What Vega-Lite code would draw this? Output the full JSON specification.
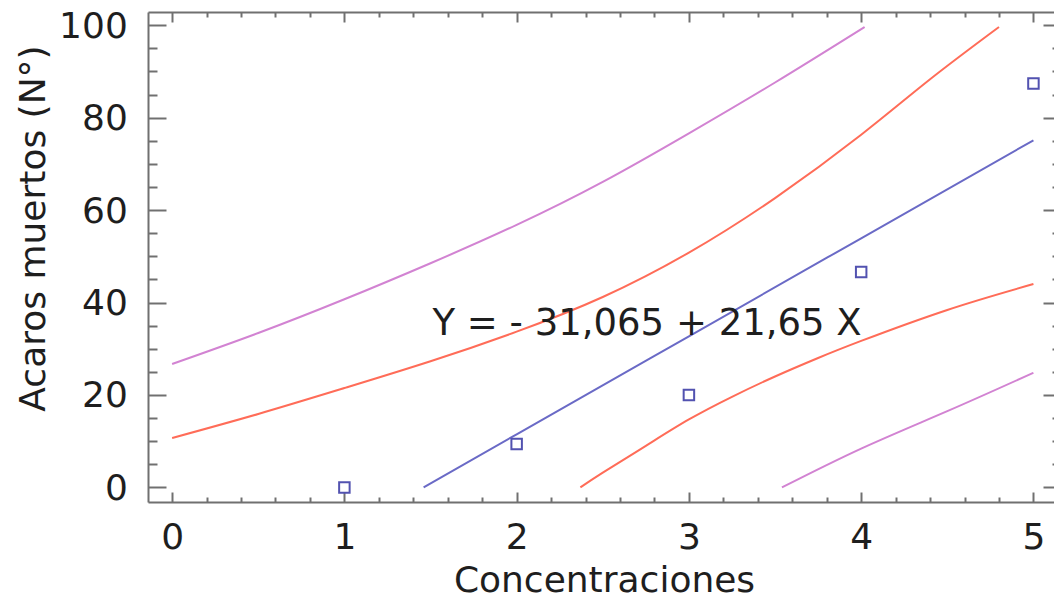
{
  "$schema": "https://vega.github.io/schema/vega-lite/v6.json",
  "width": 913,
  "height": 490,
  "autosize": {"type": "none"},
  "padding": {"left": 148, "top": 12, "right": 0, "bottom": 98},
  "background": "white",
  "config": {
    "view": {"stroke": null},
    "axis": {
      "grid": false,
      "domainColor": "#707070",
      "domainWidth": 2,
      "tickColor": "#707070",
      "tickWidth": 2,
      "labelFont": "DejaVu Sans",
      "labelFontSize": 36,
      "labelColor": "#1e1e1e",
      "labelOverlap": false,
      "labelFlush": false,
      "titleFont": "DejaVu Sans",
      "titleFontWeight": "normal",
      "titleColor": "#1e1e1e"
    }
  },
  "datasets": {
    "points": [
      {"conc": 1, "muertos": 0},
      {"conc": 2, "muertos": 9.4},
      {"conc": 3, "muertos": 20.0},
      {"conc": 4, "muertos": 46.6},
      {"conc": 5, "muertos": 87.4}
    ],
    "curves": [
      {"serie": "pred_upper", "conc": 0, "muertos": 26.7},
      {"serie": "pred_upper", "conc": 0.5, "muertos": 33.4},
      {"serie": "pred_upper", "conc": 1, "muertos": 40.7},
      {"serie": "pred_upper", "conc": 1.5, "muertos": 48.5},
      {"serie": "pred_upper", "conc": 2, "muertos": 56.8},
      {"serie": "pred_upper", "conc": 2.5, "muertos": 66.1},
      {"serie": "pred_upper", "conc": 3, "muertos": 76.6},
      {"serie": "pred_upper", "conc": 3.5, "muertos": 87.6},
      {"serie": "pred_upper", "conc": 4.02, "muertos": 99.6},
      {"serie": "conf_upper", "conc": 0, "muertos": 10.7},
      {"serie": "conf_upper", "conc": 0.5, "muertos": 15.9},
      {"serie": "conf_upper", "conc": 1, "muertos": 21.5},
      {"serie": "conf_upper", "conc": 1.5, "muertos": 27.3},
      {"serie": "conf_upper", "conc": 2, "muertos": 33.7},
      {"serie": "conf_upper", "conc": 2.5, "muertos": 41.2},
      {"serie": "conf_upper", "conc": 3, "muertos": 50.8},
      {"serie": "conf_upper", "conc": 3.5, "muertos": 62.6},
      {"serie": "conf_upper", "conc": 4, "muertos": 76.3},
      {"serie": "conf_upper", "conc": 4.4, "muertos": 88.3},
      {"serie": "conf_upper", "conc": 4.8, "muertos": 99.6},
      {"serie": "fit", "conc": 1.46, "muertos": 0},
      {"serie": "fit", "conc": 2, "muertos": 11.5},
      {"serie": "fit", "conc": 3, "muertos": 32.7},
      {"serie": "fit", "conc": 4, "muertos": 53.9},
      {"serie": "fit", "conc": 5, "muertos": 75.1},
      {"serie": "conf_lower", "conc": 2.37, "muertos": 0},
      {"serie": "conf_lower", "conc": 2.5, "muertos": 3.2},
      {"serie": "conf_lower", "conc": 2.75, "muertos": 9.0},
      {"serie": "conf_lower", "conc": 3, "muertos": 14.7},
      {"serie": "conf_lower", "conc": 3.25, "muertos": 19.6},
      {"serie": "conf_lower", "conc": 3.5, "muertos": 24.0},
      {"serie": "conf_lower", "conc": 3.75, "muertos": 28.0},
      {"serie": "conf_lower", "conc": 4, "muertos": 31.7},
      {"serie": "conf_lower", "conc": 4.5, "muertos": 38.4},
      {"serie": "conf_lower", "conc": 5, "muertos": 44.0},
      {"serie": "pred_lower", "conc": 3.54, "muertos": 0},
      {"serie": "pred_lower", "conc": 4, "muertos": 8.4},
      {"serie": "pred_lower", "conc": 4.5, "muertos": 16.5},
      {"serie": "pred_lower", "conc": 5, "muertos": 24.8}
    ],
    "annotation": [
      {"label": "Y = - 31,065 + 21,65 X"}
    ]
  },
  "layer": [
    {
      "data": {"name": "curves"},
      "mark": {"type": "line", "interpolate": "natural", "strokeWidth": 2},
      "encoding": {
        "x": {
          "field": "conc", "type": "quantitative",
          "scale": {"domain": [-0.14, 5.16], "nice": false, "zero": false},
          "axis": {
            "orient": "top", "title": null, "labels": false,
            "values": [0,0.2,0.4,0.6,0.8,1,1.2,1.4,1.6,1.8,2,2.2,2.4,2.6,2.8,3,3.2,3.4,3.6,3.8,4,4.2,4.4,4.6,4.8,5],
            "tickSize": {"condition": {"test": "datum.value % 1 === 0", "value": -10}, "value": -5}
          }
        },
        "y": {
          "field": "muertos", "type": "quantitative",
          "scale": {"domain": [-3.15, 102.85], "nice": false, "zero": false},
          "axis": {
            "orient": "right", "title": null, "labels": false,
            "values": [0,5,10,15,20,25,30,35,40,45,50,55,60,65,70,75,80,85,90,95,100],
            "tickSize": {"condition": {"test": "datum.value % 20 === 0", "value": -18}, "value": -9}
          }
        },
        "color": {
          "field": "serie", "type": "nominal", "legend": null,
          "scale": {
            "domain": ["pred_upper", "conf_upper", "fit", "conf_lower", "pred_lower"],
            "range": ["#d283d2", "#ff6c58", "#6a6ac6", "#ff6c58", "#d283d2"]
          }
        }
      }
    },
    {
      "data": {"name": "points"},
      "mark": {"type": "point", "shape": "square", "filled": false, "size": 110, "strokeWidth": 2, "color": "#5252b0", "opacity": 1},
      "encoding": {
        "x": {
          "field": "conc", "type": "quantitative",
          "scale": {"domain": [-0.14, 5.16], "nice": false, "zero": false},
          "axis": {
            "orient": "bottom",
            "title": "Concentraciones",
            "titleFontSize": 36,
            "titleX": 456,
            "titleY": 89,
            "titleAlign": "center",
            "titleBaseline": "alphabetic",
            "values": [0,0.2,0.4,0.6,0.8,1,1.2,1.4,1.6,1.8,2,2.2,2.4,2.6,2.8,3,3.2,3.4,3.6,3.8,4,4.2,4.4,4.6,4.8,5],
            "labelExpr": "datum.value % 1 === 0 ? format(datum.value, 'd') : ''",
            "labelPadding": 28.5,
            "tickSize": {"condition": {"test": "datum.value % 1 === 0", "value": -10}, "value": -5}
          }
        },
        "y": {
          "field": "muertos", "type": "quantitative",
          "scale": {"domain": [-3.15, 102.85], "nice": false, "zero": false},
          "axis": {
            "orient": "left",
            "title": "Acaros muertos (N°)",
            "titleFontSize": 36,
            "titleAngle": 270,
            "titleX": -104,
            "titleY": 216,
            "titleAlign": "center",
            "titleBaseline": "alphabetic",
            "values": [0,5,10,15,20,25,30,35,40,45,50,55,60,65,70,75,80,85,90,95,100],
            "labelExpr": "datum.value % 20 === 0 ? format(datum.value, 'd') : ''",
            "labelPadding": 38.7,
            "labelOffset": 1,
            "tickSize": {"condition": {"test": "datum.value % 20 === 0", "value": -18}, "value": -9}
          }
        }
      }
    },
    {
      "data": {"name": "annotation"},
      "mark": {"type": "text", "font": "DejaVu Sans", "fontSize": 37, "align": "center", "baseline": "alphabetic", "color": "#1e1e1e"},
      "encoding": {
        "text": {"field": "label", "type": "nominal"},
        "x": {"datum": 2.757, "type": "quantitative", "axis": null},
        "y": {"datum": 33.0, "type": "quantitative", "axis": null}
      }
    }
  ],
  "resolve": {"axis": {"x": "independent", "y": "independent"}}
}
